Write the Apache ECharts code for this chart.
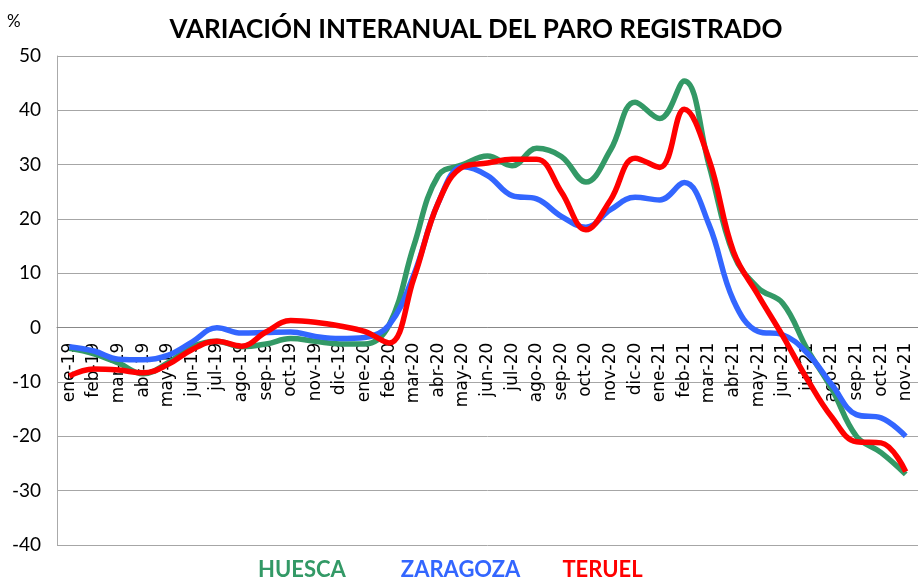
<!DOCTYPE html>
<html style="height: 100%">
<head>
  <meta charset="utf-8">
</head>
<body style="height: 100%; margin: 0">
  <div id="container" style="width: 918px; height: 585px"></div>
  <script src="https://cdn.jsdelivr.net/npm/echarts@6/dist/echarts.min.js"></script>
  <script type="text/javascript">
    var months = ['ene-19', 'feb-19', 'mar-19', 'abr-19', 'may-19', 'jun-19', 'jul-19', 'ago-19', 'sep-19', 'oct-19', 'nov-19', 'dic-19',
      'ene-20', 'feb-20', 'mar-20', 'abr-20', 'may-20', 'jun-20', 'jul-20', 'ago-20', 'sep-20', 'oct-20', 'nov-20', 'dic-20',
      'ene-21', 'feb-21', 'mar-21', 'abr-21', 'may-21', 'jun-21', 'jul-21', 'ago-21', 'sep-21', 'oct-21', 'nov-21'];

    // variación interanual (%)
    var huesca = [-3.8, -4.8, -6.5, -8.5, -6.5, -3.5, -2.5, -3.5, -3, -2, -2.5, -3, -3, 0.5, 15, 28, 30, 31.6, 29.8, 33, 31.5, 26.8,
      32.7, 41.5, 38.5, 45.4, 30, 13.5, 7.3, 4.5, -4, -11.3, -20, -23, -27];
    var zaragoza = [-3.5, -4.3, -5.8, -5.9, -5.1, -2.6, 0, -1, -0.9, -0.8, -1.6, -2, -1.8, 0.5, 9.7, 23, 29.6, 28, 24.3, 23.7, 20.5, 18.5,
      21.7, 24, 23.5, 26.7, 19, 5, -0.7, -1.3, -4.7, -10.5, -16, -16.6, -20];
    var teruel = [-8.9, -7.6, -7.8, -8.3, -6.8, -4, -2.5, -3.4, -0.8, 1.3, 1, 0.3, -0.7, -2.8, 9, 23, 29.6, 30.3, 31, 31, 25, 18,
      23.5, 31.2, 29.5, 40.2, 31, 14, 6, -1.5, -9.5, -16.5, -21, -21.2, -26.5];

    var names = ['HUESCA', 'ZARAGOZA', 'TERUEL'];
    var colors = ['#339966', '#3366FF', '#FF0000'];
    var yMin = -40, yMax = 50;

    var dom = document.getElementById('container');
    var myChart = echarts.init(dom);

    // alto de la rejilla: 585 - 56 - 40
    var gridH = 489;
    // el eje de categorías se coloca en el valor 0 (onZero no se aplica aquí)
    var zeroOffset = -gridH * (0 - yMin) / (yMax - yMin);

    function linea(i, data) {
      return {
        name: names[i],
        type: 'line',
        data: data,
        smooth: 0.4,
        symbol: 'none',
        lineStyle: { width: 5.5, color: colors[i] },
        itemStyle: { color: colors[i] }
      };
    }

    var option = {
      title: {
        text: 'VARIACIÓN INTERANUAL DEL PARO REGISTRADO',
        left: 471,
        textAlign: 'center',
        top: 12,
        textStyle: { fontFamily: 'Lato', fontWeight: 'bold', fontSize: 26, color: '#000' }
      },
      legend: {
        top: 554,
        left: 248,
        icon: 'none',
        itemGap: 37,
        itemWidth: 0,
        selectedMode: false,
        textStyle: { fontFamily: 'Lato', fontWeight: 'bold', fontSize: 22 },
        data: [
          { name: 'HUESCA', textStyle: { color: colors[0] } },
          { name: 'ZARAGOZA', textStyle: { color: colors[1], padding: [8, 0, 0, 13] } },
          { name: 'TERUEL', textStyle: { color: colors[2] } }
        ]
      },
      grid: { left: 57, right: 0, top: 56, bottom: 40, outerBoundsMode: 'none', containLabel: false },
      xAxis: {
        type: 'category',
        data: months,
        boundaryGap: true,
        position: 'bottom',
        offset: zeroOffset,
        axisLine: { onZero: false, lineStyle: { color: '#888', width: 1 } },
        axisTick: { show: false },
        axisLabel: {
          interval: 0,
          rotate: 90,
          margin: 15,
          fontFamily: 'DejaVu Sans',
          fontSize: 17,
          color: '#000'
        }
      },
      yAxis: {
        type: 'value',
        name: '%',
        nameLocation: 'end',
        nameGap: 26,
        nameTextStyle: { fontFamily: 'Lato', fontSize: 17, color: '#000', align: 'left', padding: [0, 0, 0, -50] },
        min: yMin,
        max: yMax,
        interval: 10,
        axisLine: { show: true, lineStyle: { color: '#aaa', width: 1 } },
        axisTick: { show: false },
        axisLabel: { fontFamily: 'Lato', fontSize: 19, color: '#000', margin: 16 },
        splitLine: { lineStyle: { color: '#a6a6a6', width: 1 } }
      },
      series: [linea(0, huesca), linea(1, zaragoza), linea(2, teruel)]
    };

    myChart.setOption(option);
  </script>
</body>
</html>
